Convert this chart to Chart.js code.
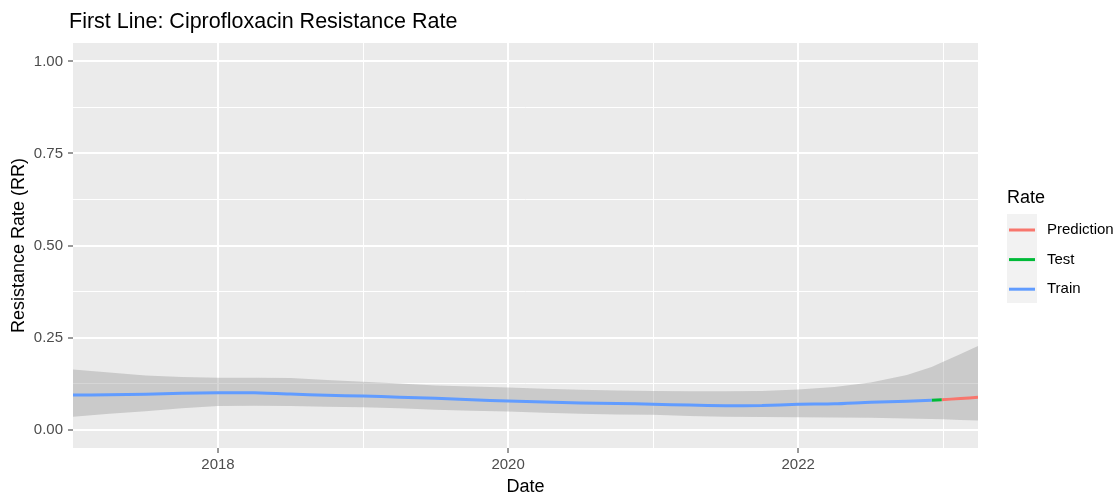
<!DOCTYPE html>
<html>
<head>
<meta charset="utf-8">
<title>First Line: Ciprofloxacin Resistance Rate</title>
<script src="https://cdn.jsdelivr.net/npm/chart.js@4.4.1/dist/chart.umd.min.js"></script>
<style>
    html, body { margin: 0; padding: 0; background: #fff; }
</style>
</head>
<body>
<canvas id="rateData" width="1119" height="500"></canvas>
<script>
// data (decimal years)
const ribbonDates = [2017.0, 2017.25, 2017.5, 2017.75, 2018.0, 2018.25, 2018.5, 2018.75, 2019.0, 2019.25, 2019.5, 2019.75,
    2020.0, 2020.25, 2020.5, 2020.75, 2021.0, 2021.25, 2021.5, 2021.75, 2022.0, 2022.25, 2022.5, 2022.75, 2022.92, 2023.0, 2023.12, 2023.24];
const ribbonUpper = [0.163, 0.155, 0.147, 0.143, 0.141, 0.141, 0.140, 0.135, 0.130, 0.125, 0.120, 0.117,
    0.114, 0.111, 0.108, 0.106, 0.105, 0.104, 0.104, 0.105, 0.109, 0.116, 0.128, 0.148, 0.170, 0.184, 0.205, 0.227];
const ribbonLower = [0.035, 0.043, 0.050, 0.058, 0.064, 0.065, 0.064, 0.062, 0.061, 0.058, 0.054, 0.051,
    0.049, 0.046, 0.043, 0.041, 0.040, 0.037, 0.035, 0.034, 0.0335, 0.033, 0.032, 0.030, 0.029, 0.028, 0.026, 0.0245];

const trainDates = [2017.0, 2017.25, 2017.5, 2017.75, 2018.0, 2018.25, 2018.5, 2018.75, 2019.0, 2019.25, 2019.5, 2019.75,
    2020.0, 2020.25, 2020.5, 2020.75, 2021.0, 2021.25, 2021.5, 2021.75, 2022.0, 2022.25, 2022.5, 2022.75, 2022.92];
const trainRate = [0.094, 0.0945, 0.0957, 0.0985, 0.100, 0.100, 0.0965, 0.093, 0.0915, 0.088, 0.085, 0.081,
    0.0777, 0.075, 0.0725, 0.071, 0.0687, 0.0667, 0.065, 0.0655, 0.0687, 0.070, 0.0745, 0.077, 0.080];

const testDates = [2022.92, 2022.99];
const testRate = [0.080, 0.081];

const predDates = [2022.99, 2023.12, 2023.24];
const predRate = [0.081, 0.0845, 0.0877];

const xMajor = [2018, 2020, 2022];
const xMinor = [2019, 2021, 2023];
const yMajor = [0, 0.25, 0.5, 0.75, 1];
const yMinor = [0.125, 0.375, 0.625, 0.875];

const seriesNames = ["Prediction", "Test", "Train"];
const seriesColors = ["#F8766D", "#00BA38", "#619CFF"];

const fontFamily = '"Liberation Sans", Arial, sans-serif';

const toPoints = (xs, ys) => xs.map((x, i) => ({ x: x, y: ys[i] }));

const ggPlugin = {
    id: 'ggLook',
    beforeDraw: (chart) => {
        const { ctx, chartArea } = chart;
        ctx.save();
        ctx.fillStyle = '#ebebeb';
        ctx.fillRect(chartArea.left, chartArea.top, chartArea.right - chartArea.left, chartArea.bottom - chartArea.top);
        ctx.restore();
    },
    afterDraw: (chart) => {
        const { ctx, chartArea } = chart;
        ctx.save();
        ctx.fillStyle = '#000';

        // title
        ctx.font = '21.5px ' + fontFamily;
        ctx.textAlign = 'left';
        ctx.textBaseline = 'alphabetic';
        ctx.fillText('First Line: Ciprofloxacin Resistance Rate', 69, 28);

        // axis titles
        ctx.font = '18px ' + fontFamily;
        ctx.textAlign = 'center';
        ctx.fillText('Date', (chartArea.left + chartArea.right) / 2, 491.5);
        ctx.save();
        ctx.translate(24, (chartArea.top + chartArea.bottom) / 2);
        ctx.rotate(-Math.PI / 2);
        ctx.fillText('Resistance Rate (RR)', 0, 0);
        ctx.restore();

        // legend
        ctx.textAlign = 'left';
        ctx.fillText('Rate', 1007, 203);
        ctx.fillStyle = '#f2f2f2';
        ctx.fillRect(1007, 214, 30, 89);
        ctx.font = '15px ' + fontFamily;
        ctx.textBaseline = 'middle';
        seriesNames.forEach((name, i) => {
            const y = 230 + i * 29.6;
            ctx.strokeStyle = seriesColors[i];
            ctx.lineWidth = 3;
            ctx.beginPath();
            ctx.moveTo(1009, y);
            ctx.lineTo(1035, y);
            ctx.stroke();
            ctx.fillStyle = '#000';
            ctx.fillText(name, 1047, y);
        });
        ctx.restore();
    }
};

const rateChartElm = document.getElementById('rateData');

const rateChartData = {
    datasets: [{
        label: 'lower',
        data: toPoints(ribbonDates, ribbonLower),
        borderWidth: 0,
        pointRadius: 0,
        fill: false,
        order: 2
    }, {
        label: 'upper',
        data: toPoints(ribbonDates, ribbonUpper),
        borderWidth: 0,
        pointRadius: 0,
        fill: '-1',
        backgroundColor: 'rgba(153, 153, 153, 0.4)',
        order: 2
    }, {
        label: seriesNames[2],
        data: toPoints(trainDates, trainRate),
        borderColor: seriesColors[2],
        borderWidth: 3,
        pointRadius: 0,
        tension: 0.2,
        borderCapStyle: 'butt',
        order: 0
    }, {
        label: seriesNames[1],
        data: toPoints(testDates, testRate),
        borderColor: seriesColors[1],
        borderWidth: 3,
        pointRadius: 0,
        borderCapStyle: 'butt',
        order: 0
    }, {
        label: seriesNames[0],
        data: toPoints(predDates, predRate),
        borderColor: seriesColors[0],
        borderWidth: 3,
        pointRadius: 0,
        tension: 0.2,
        borderCapStyle: 'butt',
        order: 0
    }]
};

const rateChartconfig = {
    type: 'line',
    data: rateChartData,
    options: {
        responsive: false,
        animation: false,
        devicePixelRatio: 1,
        layout: {
            padding: { left: 0, top: 43, right: 141, bottom: 0 }
        },
        plugins: {
            legend: { display: false },
            tooltip: { enabled: false },
            title: { display: false }
        },
        scales: {
            x: {
                type: 'linear',
                min: 2017.0,
                max: 2023.24,
                afterBuildTicks: (scale) => {
                    scale.ticks = xMajor.concat(xMinor).sort().map(v => ({ value: v }));
                },
                afterFit: (scale) => { scale.height = 52; },
                border: { display: false },
                grid: {
                    color: '#ffffff',
                    lineWidth: (c) => xMajor.includes(c.tick.value) ? 2 : 1,
                    tickColor: (c) => xMajor.includes(c.tick.value) ? '#333333' : 'rgba(0,0,0,0)',
                    tickWidth: 1,
                    tickLength: 5
                },
                ticks: {
                    autoSkip: false,
                    maxRotation: 0,
                    padding: 3,
                    color: '#4d4d4d',
                    font: { family: fontFamily, size: 15 },
                    callback: (v) => xMajor.includes(v) ? String(v) : ''
                }
            },
            y: {
                type: 'linear',
                min: -0.05,
                max: 1.05,
                afterBuildTicks: (scale) => {
                    scale.ticks = yMajor.concat(yMinor).sort((a, b) => a - b).map(v => ({ value: v }));
                },
                afterFit: (scale) => { scale.width = 73; },
                border: { display: false },
                grid: {
                    color: '#ffffff',
                    lineWidth: (c) => yMajor.includes(c.tick.value) ? 2 : 1,
                    tickColor: (c) => yMajor.includes(c.tick.value) ? '#333333' : 'rgba(0,0,0,0)',
                    tickWidth: 1,
                    tickLength: 5
                },
                ticks: {
                    autoSkip: false,
                    padding: 5,
                    color: '#4d4d4d',
                    font: { family: fontFamily, size: 15 },
                    callback: (v) => yMajor.includes(v) ? v.toFixed(2) : ''
                }
            }
        }
    },
    plugins: [ggPlugin]
};

const rateChart = new Chart(rateChartElm, rateChartconfig);
</script>
</body>
</html>
